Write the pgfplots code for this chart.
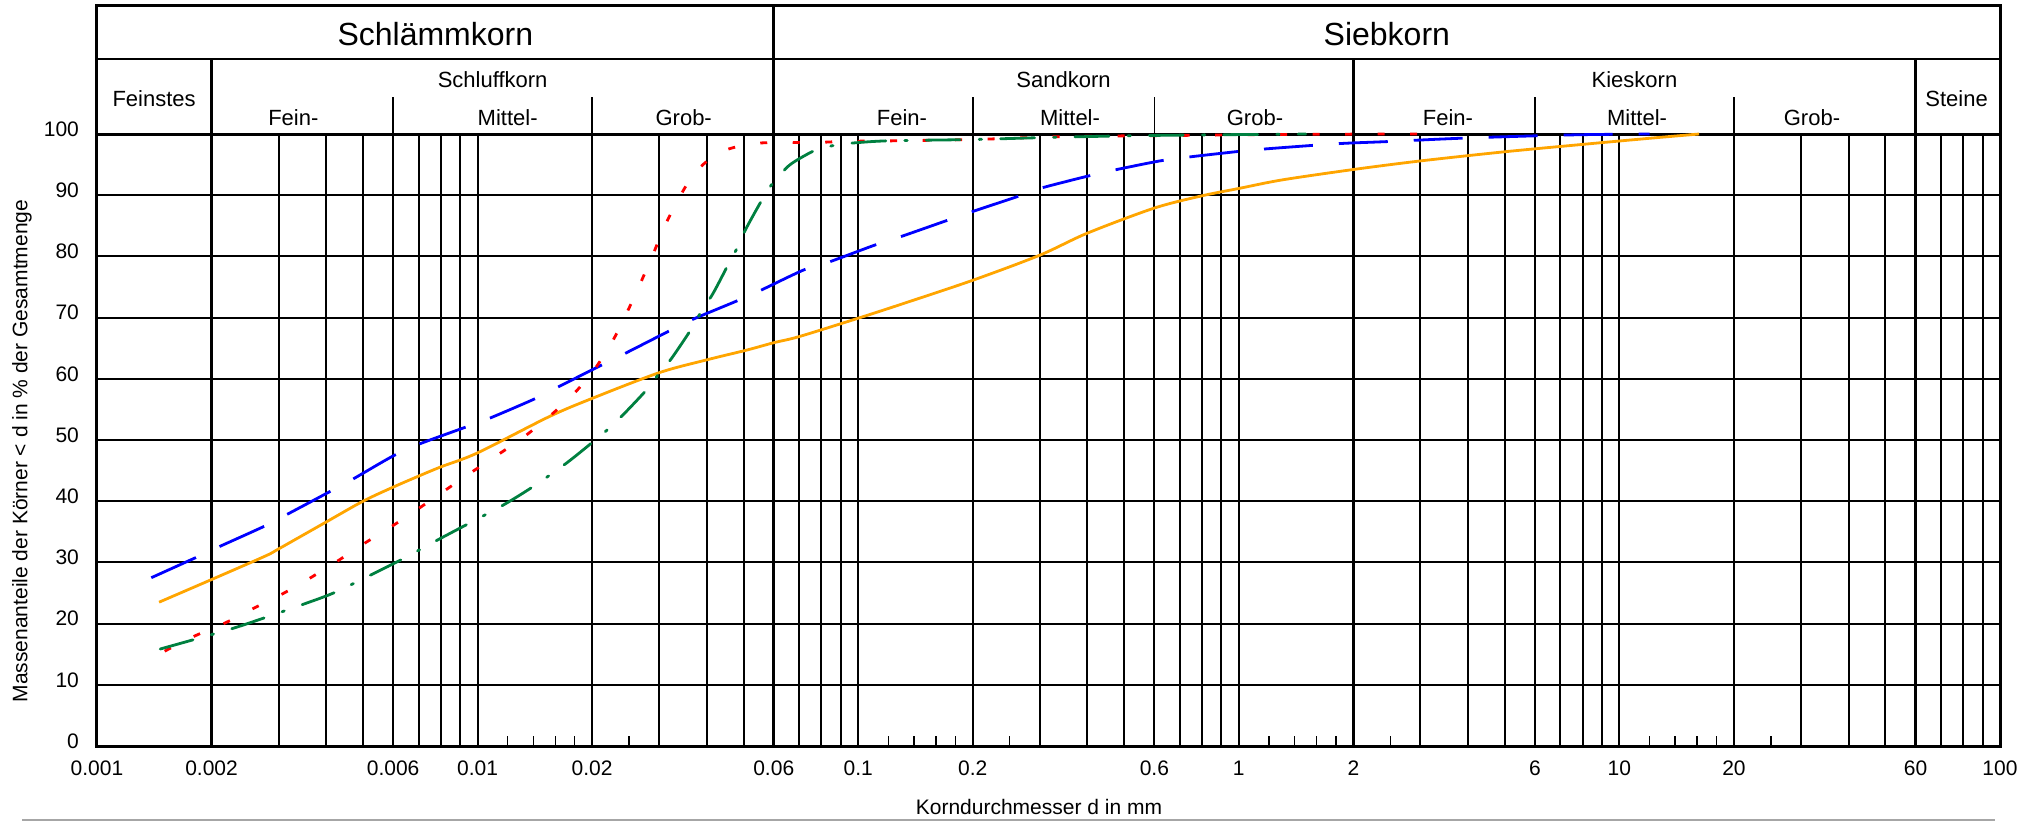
\documentclass[border=0pt]{standalone}
\usepackage{fontspec}
\setmainfont{Liberation Sans}
\usepackage{pgfplots}
\pgfplotsset{compat=1.18}
\definecolor{corange}{RGB}{255,165,0}
\definecolor{cblue}{RGB}{0,0,255}
\definecolor{cred}{RGB}{255,0,0}
\definecolor{cgreen}{RGB}{0,128,64}
\begin{document}
\begin{tikzpicture}
\useasboundingbox (-48.5pt,-37.5pt) rectangle (970pt,373pt);
\begin{semilogxaxis}[
  scale only axis, width=951.5pt, height=306pt,
  xmin=0.001, xmax=100, ymin=0, ymax=100,
  clip=false,
  axis line style={line width=1.5pt},
  xtick={0.001,0.002,0.006,0.01,0.02,0.06,0.1,0.2,0.6,1,2,6,10,20,60,100},
  xticklabels={0.001,0.002,0.006,0.01,0.02,0.06,0.1,0.2,0.6,1,2,6,10,20,60,100},
  minor xtick={0.003,0.004,0.005,0.007,0.008,0.009,0.03,0.04,0.05,0.07,0.08,0.09,0.3,0.4,0.5,0.7,0.8,0.9,3,4,5,7,8,9,30,40,50,70,80,90},
  ytick={0,10,20,30,40,50,60,70,80,90,100},
  yticklabels={0,10,20,30,40,50,60,70,80,90,100},
  xmajorgrids, xminorgrids, ymajorgrids,
  grid style={black, line width=1pt},
  major tick length=0pt, minor tick length=0pt,
  tick pos=left,
  extra x ticks={0.012,0.014,0.016,0.018,0.025,0.12,0.14,0.16,0.18,0.25,1.2,1.4,1.6,1.8,2.5,12,14,16,18,25},
  extra x tick labels={},
  extra x tick style={grid=none, major tick length=5pt, tick style={black, line width=0.7pt}},
  xticklabel style={font=\fontsize{10.5}{12}\selectfont, yshift=-4pt},
  yticklabel style={font=\fontsize{10.5}{12}\selectfont, xshift=-5.5pt, yshift=2.5pt},
]
% heavy boundary lines and header frame
\draw[line width=1.4pt] (axis cs:0.002,0) -- (axis cs:0.002,112.25);
\draw[line width=1.4pt] (axis cs:0.06,0) -- (axis cs:0.06,120.92);
\draw[line width=1.4pt] (axis cs:2,0) -- (axis cs:2,112.25);
\draw[line width=1.4pt] (axis cs:60,0) -- (axis cs:60,112.25);
\draw[line width=1.5pt] (axis cs:0.001,100) -- (axis cs:0.001,120.92) -- (axis cs:100,120.92) -- (axis cs:100,100);
\draw[line width=1.4pt] (axis cs:0.001,112.25) -- (axis cs:100,112.25);
\draw[line width=0.8pt] (axis cs:0.006,100) -- (axis cs:0.006,106.05);
\draw[line width=0.8pt] (axis cs:0.02,100) -- (axis cs:0.02,106.05);
\draw[line width=0.8pt] (axis cs:0.2,100) -- (axis cs:0.2,106.05);
\draw[line width=0.8pt] (axis cs:0.6,100) -- (axis cs:0.6,106.05);
\draw[line width=0.8pt] (axis cs:6,100) -- (axis cs:6,106.05);
\draw[line width=0.8pt] (axis cs:20,100) -- (axis cs:20,106.05);
% header text
\node[anchor=base, font=\fontsize{16}{19}\selectfont] at (rel axis cs:0.1778,1.1438) {Schlämmkorn};
\node[anchor=base, font=\fontsize{16}{19}\selectfont] at (rel axis cs:0.6778,1.1438) {Siebkorn};
\node[anchor=base, font=\fontsize{11}{13}\selectfont] at (rel axis cs:0.030,1.0449) {Feinstes};
\node[anchor=base, font=\fontsize{11}{13}\selectfont] at (rel axis cs:0.9772,1.0449) {Steine};
\node[anchor=base, font=\fontsize{11}{13}\selectfont] at (rel axis cs:0.2079,1.0768) {Schluffkorn};
\node[anchor=base, font=\fontsize{11}{13}\selectfont] at (rel axis cs:0.5079,1.0768) {Sandkorn};
\node[anchor=base, font=\fontsize{11}{13}\selectfont] at (rel axis cs:0.8079,1.0768) {Kieskorn};
\node[anchor=base, font=\fontsize{11}{13}\selectfont] at (rel axis cs:0.1032,1.0147) {Fein-};
\node[anchor=base, font=\fontsize{11}{13}\selectfont] at (rel axis cs:0.2158,1.0147) {Mittel-};
\node[anchor=base, font=\fontsize{11}{13}\selectfont] at (rel axis cs:0.3083,1.0147) {Grob-};
\node[anchor=base, font=\fontsize{11}{13}\selectfont] at (rel axis cs:0.4230,1.0147) {Fein-};
\node[anchor=base, font=\fontsize{11}{13}\selectfont] at (rel axis cs:0.5113,1.0147) {Mittel-};
\node[anchor=base, font=\fontsize{11}{13}\selectfont] at (rel axis cs:0.6085,1.0147) {Grob-};
\node[anchor=base, font=\fontsize{11}{13}\selectfont] at (rel axis cs:0.7099,1.0147) {Fein-};
\node[anchor=base, font=\fontsize{11}{13}\selectfont] at (rel axis cs:0.8093,1.0147) {Mittel-};
\node[anchor=base, font=\fontsize{11}{13}\selectfont] at (rel axis cs:0.9012,1.0147) {Grob-};
% axis labels
\node[anchor=base, font=\fontsize{10.5}{12}\selectfont] at (rel axis cs:0.495,-0.1127) {Korndurchmesser d in mm};
\node[rotate=90, font=\fontsize{10.5}{12}\selectfont] at (rel axis cs:-0.0394,0.482) {Massenanteile der Körner < d in \% der Gesamtmenge};
\draw[gray!70, line width=1pt] (rel axis cs:-0.0394,-0.1209) -- (rel axis cs:0.9974,-0.1209);
% curves
\addplot[corange, line width=1.4pt, smooth, tension=0.5] coordinates {
(0.001456,23.5) (0.002,27.2) (0.00276,31.0) (0.003,32.2) (0.004,36.6) (0.005,40.0) (0.006,42.3) (0.007,44.1) (0.008,45.6) (0.01,47.9) (0.0154,53.8) (0.02,56.8) (0.03,61.0) (0.04,63.1) (0.051,64.7) (0.06,65.9) (0.07,66.9) (0.1,69.9) (0.13,72.2) (0.2,76.1) (0.3,80.2) (0.4,83.8) (0.6,87.9) (0.8,89.9) (1.0,91.1) (1.3,92.5) (2,94.2) (3,95.6) (5,97.1) (8,98.3) (12,99.3) (16.2,100)
};
\addplot[cblue, line width=1.4pt, smooth, tension=0.5, dash pattern=on 24.5pt off 13pt] coordinates {
(0.001389,27.5) (0.00182,30.8) (0.0021,32.6) (0.00275,35.9) (0.00317,37.9) (0.0041,41.6) (0.0047,43.6) (0.006,47.4) (0.007,49.3) (0.0093,52.1) (0.0107,53.5) (0.0141,56.7) (0.0162,58.6) (0.0211,62.2) (0.0245,64.2) (0.0316,67.7) (0.0364,69.6) (0.0479,72.7) (0.0552,74.4) (0.072,77.8) (0.084,79.1) (0.11,81.8) (0.129,83.2) (0.197,87.2) (0.26,89.7) (0.3,91.1) (0.4,93.1) (0.47,94.1) (0.62,95.6) (0.73,96.2) (0.98,97.1) (1.14,97.5) (1.8,98.4) (2.43,98.75) (3.8,99.3) (6,99.7) (8.2,99.9) (12,100)
};
\addplot[cred, line width=1.4pt, smooth, tension=0.5, dash pattern=on 3.5pt off 12.75pt] coordinates {
(0.001506,15.5) (0.00181,18.0) (0.00217,20.1) (0.00258,22.5) (0.00306,24.8) (0.00362,27.4) (0.00428,30.2) (0.00504,33.1) (0.00592,35.8) (0.00696,38.7) (0.00814,41.6) (0.00957,44.6) (0.01125,47.5) (0.01323,50.5) (0.01547,53.9) (0.0178,57.4) (0.0201,61.2) (0.02246,65.8) (0.0245,70.4) (0.02655,75.1) (0.0288,80.1) (0.031,84.9) (0.0338,89.5) (0.0374,93.8) (0.0433,97.0) (0.0524,98.4) (0.0634,98.6) (0.0768,98.6) (0.093,98.8) (0.13,98.9) (0.2,99.1) (0.25,99.3) (0.36,99.6) (0.8,99.8) (1.5,99.95) (3,100)
};
\addplot[cgreen, line width=1.4pt, smooth, tension=0.5, line cap=round, dash pattern=on 17pt off 9.5pt on 1.2pt off 9.5pt] coordinates {
(0.001466,15.85) (0.0018,17.4) (0.00227,19.2) (0.00277,21.0) (0.00348,23.15) (0.0042,25.05) (0.00528,28.05) (0.00635,30.55) (0.00787,33.7) (0.00944,36.3) (0.0117,39.4) (0.014,42.4) (0.0171,46.2) (0.0201,49.7) (0.022,51.75) (0.0241,54.1) (0.0278,58.2) (0.03,60.9) (0.0323,63.3) (0.0365,68.2) (0.0387,71.0) (0.0416,74.0) (0.0455,78.6) (0.0483,81.6) (0.0508,84.6) (0.0562,89.5) (0.06,92.2) (0.0654,94.7) (0.0702,96.0) (0.0776,97.4) (0.0875,98.2) (0.1,98.6) (0.122,98.9) (0.2,99.1) (0.3,99.4) (0.5,99.7) (0.8,99.85) (1.5,100)
};
\end{semilogxaxis}
\end{tikzpicture}
\end{document}
